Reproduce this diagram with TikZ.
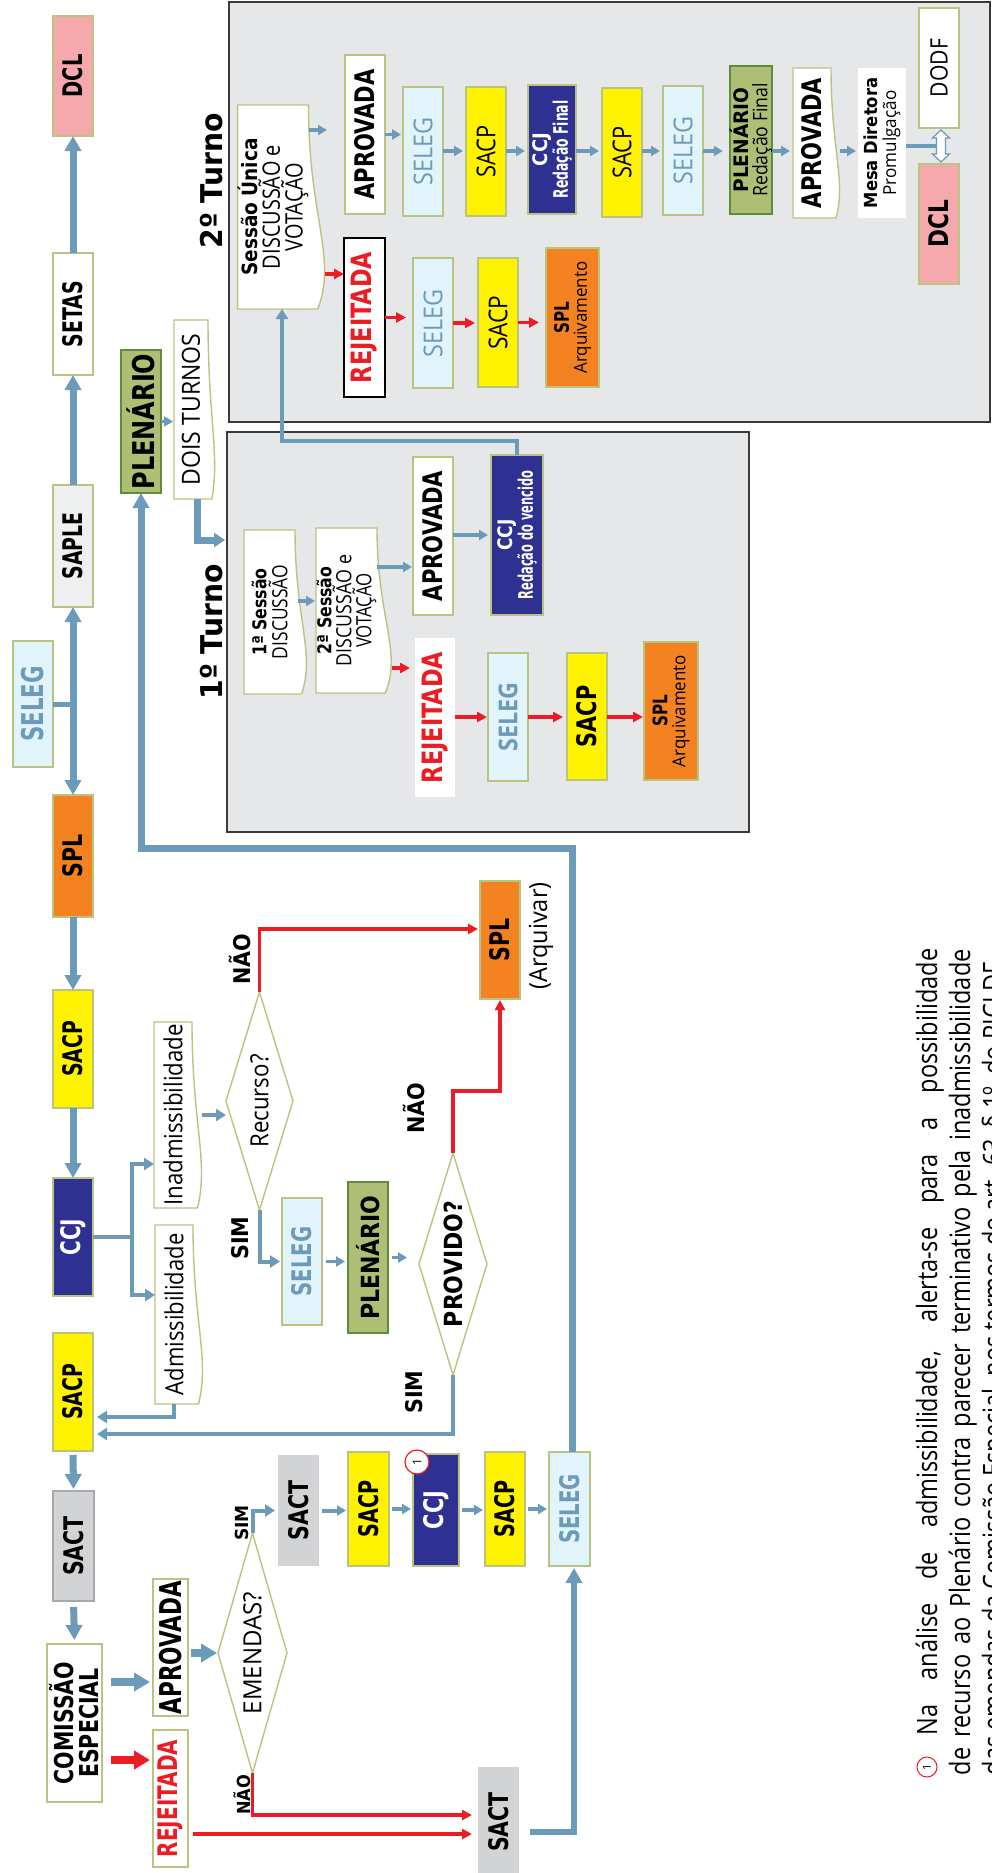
\documentclass[tikz,border=0pt]{standalone}
\usepackage{fontspec}
\usepackage{graphicx}
\setmainfont{DejaVu Sans}
\newfontfamily\os{Open Sans}
\usetikzlibrary{arrows.meta,shapes.geometric,calc}

\definecolor{flow}{RGB}{107,155,185}
\definecolor{nored}{RGB}{237,28,36}
\definecolor{olive}{RGB}{184,196,128}
\definecolor{dclpink}{RGB}{245,169,172}
\definecolor{yel}{RGB}{255,242,0}
\definecolor{navy}{RGB}{46,49,146}
\definecolor{orng}{RGB}{245,130,32}
\definecolor{skyb}{RGB}{225,243,251}
\definecolor{plen}{RGB}{174,190,117}
\definecolor{plenb}{RGB}{94,140,59}
\definecolor{sactg}{RGB}{209,211,212}
\definecolor{sactb}{RGB}{167,169,172}
\definecolor{sapleg}{RGB}{238,239,239}
\definecolor{panel}{RGB}{230,231,232}
\definecolor{panelb}{RGB}{58,58,58}

% size, horizontal squeeze, text
\newcommand\bx[3]{{\fontsize{#1pt}{#1pt}\selectfont\bfseries\scalebox{#2}[1]{#3}}}
\newcommand\rx[3]{{\fontsize{#1pt}{#1pt}\os\scalebox{#2}[1]{#3}}}
\newcommand\ob[3]{{\fontsize{#1pt}{#1pt}\os\bfseries\scalebox{#2}[1]{#3}}}

\pgfdeclarelayer{background}
\pgfdeclarelayer{shapes}
\pgfsetlayers{background,shapes,main}

% document-style outline (wavy side) behind a named node
\newcommand\wavebox[2]{%
  \begin{pgfonlayer}{shapes}
  \draw[fill=white, draw=olive, line width=1.4pt]
    (#1.north east) -- (#1.south east)
    .. controls ($(#1.south east)!0.55!(#1.south west)$)
            and ($(#1.south east)!0.75!(#1.south west)+(1.7*#2,0)$)
    .. ($(#1.south west)+(0.55*#2,0)$) -- (#1.north west) -- cycle;
  \end{pgfonlayer}}

\tikzset{
  every node/.style={inner sep=0pt, outer sep=0pt},
  card/.style={rotate=90, align=center, line width=1.4pt},
  dims/.style 2 args={minimum width=#1pt, minimum height=#2pt},
  plainbox/.style={card, draw=olive, fill=white},
  yellowbox/.style={card, draw=olive, fill=yel},
  navybox/.style={card, draw=olive, fill=navy, text=white},
  orangebox/.style={card, draw=olive, fill=orng},
  skybox/.style={card, draw=olive, fill=skyb, text=flow},
  pinkbox/.style={card, draw=olive, fill=dclpink},
  plenbox/.style={card, draw=plenb, fill=plen},
  sactbox/.style={card, fill=sactg},
  docbox/.style={card},
  decision/.style={card, diamond, aspect=3.3, draw=olive, fill=white},
  lbl/.style={rotate=90},
  panelbox/.style={draw=panelb, fill=panel, line width=1.2pt},
  arrThick/.style={draw=flow, line width=7pt, -{Triangle[width=16pt,length=15pt]}},
  arrMed/.style={draw=flow, line width=4.5pt, -{Triangle[width=12pt,length=10pt]}},
  arrSmall/.style={draw=flow, line width=3.5pt, -{Triangle[width=10pt,length=9pt]}},
  arrRed/.style={draw=nored, line width=3.5pt, -{Triangle[width=10pt,length=10pt]}},
  arrBlock/.style={line width=8pt, -{Triangle[width=18pt,length=16pt]}},
}

\begin{document}
\begin{tikzpicture}[x=1pt,y=-1pt]
\useasboundingbox (0,0) rectangle (991,1873);

\begin{pgfonlayer}{background}
  \fill[white] (0,0) rectangle (991,1873);
  \node[panelbox, minimum width=761pt, minimum height=420pt] (t2) at (609.5,212) {};
  \node[panelbox, minimum width=522pt, minimum height=400pt] (t1) at (488,632) {};
\end{pgfonlayer}

% ---------------- main column ----------------
\node[pinkbox, dims={120}{40}] (dcl) at (73,76) {\bx{27}{0.72}{DCL}};
\node[plainbox, dims={122}{40}] (setas) at (73,314) {\bx{27}{0.7}{SETAS}};
\node[card, draw=olive, fill=sapleg, dims={122}{40}] (saple) at (73,546) {\bx{27}{0.7}{SAPLE}};
\node[skybox, dims={126}{40}] (selegA) at (33,704) {\bx{30}{0.71}{SELEG}};
\node[orangebox, dims={122}{40}] (splA) at (73,856) {\bx{27}{0.76}{SPL}};
\node[yellowbox, dims={118}{40}] (sacpA) at (73,1049) {\bx{27}{0.7}{SACP}};
\node[navybox, dims={118}{40}] (ccjA) at (73,1237) {\bx{27}{0.74}{CCJ}};
\node[yellowbox, dims={118}{40}] (sacpB) at (73,1392) {\bx{27}{0.7}{SACP}};
\node[sactbox, draw=sactb, line width=2pt, dims={110}{41}] (sactA) at (73.5,1546) {\bx{27}{0.76}{SACT}};
\node[plainbox, dims={158}{55}, font=\fontsize{26pt}{25pt}\selectfont] (comissao) at (74.5,1723)
  {\bx{26}{0.79}{COMISSÃO}\\\bx{26}{0.79}{ESPECIAL}};

\draw[arrThick] (setas.east) -- (dcl.west);
\draw[arrThick] (saple.east) -- (setas.west);
\coordinate (junc) at (saple.west |- selegA.south);
\draw[draw=flow, line width=5pt] (selegA.south) -- (junc);
\draw[arrThick] (junc) -- (saple.west);
\draw[arrThick] (junc) -- (splA.east);
\draw[arrThick] (splA.west) -- (sacpA.east);
\draw[arrThick] (sacpA.west) -- (ccjA.east);
\draw[arrThick, shorten <=4pt, shorten >=2pt] (sacpB.west) -- (sactA.east);
\draw[arrThick, shorten <=6pt, shorten >=4pt] (sactA.west) -- (comissao.east);

% ---------------- plenary, two rounds ----------------
\node[plenbox, dims={143}{40}] (plenA) at (141,421.5) {\bx{30}{0.8}{PLENÁRIO}};
\node[docbox, dims={179}{34}] (dois) at (191,409.5) {\rx{25}{0.92}{DOIS TURNOS}};
\wavebox{dois}{7}
\draw[arrSmall, shorten >=1pt] (plenA.south) -- (plenA.south -| dois.north);
\draw[draw=flow, line width=7pt, -{Triangle[width=14pt,length=11pt]}, shorten >=2pt]
  ([xshift=6pt]dois.west) |- (t1.west |- 0,540);

\node[lbl] (tit2) at (211.5,181) {\bx{30}{0.94}{2º Turno}};
\node[lbl] (tit1) at (211.5,632) {\bx{30}{0.94}{1º Turno}};

% ---------------- Comissao Especial outcome ----------------
\node[plainbox, dims={137}{35}] (aprov0) at (170.5,1647.5) {\bx{30}{0.72}{APROVADA}};
\node[plainbox, dims={137}{35}, text=nored] (rej0) at (170.5,1798.5) {\bx{27}{0.74}{REJEITADA}};
\draw[arrBlock, draw=flow, shorten <=9pt, shorten >=3pt] (comissao.south |- 0,1682) -- (aprov0.north |- 0,1682);
\draw[arrBlock, draw=nored, shorten <=9pt, shorten >=3pt] (comissao.south |- 0,1760) -- (rej0.north |- 0,1760);

\node[decision, dims={240}{69}] (emendas) at (252.5,1653) {\rx{25}{0.96}{EMENDAS?}};
\draw[arrBlock, draw=flow, shorten <=3pt, shorten >=1pt] (aprov0.south |- emendas.north) -- (emendas.north);
\node[lbl] (simA) at (242,1523) {\bx{18}{0.95}{SIM}};
\node[lbl] (naoA) at (242,1795) {\bx{18}{0.9}{NÃO}};

\node[sactbox, dims={111}{41}] (sactB) at (298.5,1510.5) {\bx{27}{0.76}{SACT}};
\node[yellowbox, dims={114}{41}] (sacpC) at (368.5,1509) {\bx{27}{0.71}{SACP}};
\node[navybox, dims={112}{46}] (ccjB) at (436,1510) {\bx{27}{0.77}{CCJ}};
\node[yellowbox, dims={114}{40}] (sacpD) at (505,1509) {\bx{27}{0.71}{SACP}};
\node[skybox, dims={114}{41}] (selegB) at (569.5,1509) {\bx{27}{0.73}{SELEG}};
\node[sactbox, dims={110}{41}] (sactC) at (498.5,1822) {\bx{27}{0.76}{SACT}};
\node[circle, draw=nored, fill=white, line width=1.2pt, minimum size=24pt, rotate=90] (badge) at (417,1462) {\rx{12}{1}{1}};

\draw[arrMed, line width=4pt, shorten >=3pt] (emendas.east) |- (sactB.north);
\coordinate (redA) at ($(sactC.north)+(0,-7)$);
\coordinate (redB) at ($(sactC.north)+(0,12)$);
\draw[arrRed, shorten >=6pt] (emendas.west) |- (redA);
\draw[arrRed, shorten <=5pt, shorten >=6pt] (rej0.south |- redB) -- (redB);
\draw[arrSmall, line width=4pt, shorten <=3pt, shorten >=2pt] (sactB.south) -- (sactB.south -| sacpC.north);
\draw[arrSmall, line width=4pt, shorten <=3pt, shorten >=2pt] (sacpC.south) -- (sacpC.south -| ccjB.north);
\draw[arrSmall, line width=4pt, shorten <=3pt, shorten >=2pt] (ccjB.south) -- (ccjB.south -| sacpD.north);
\draw[arrSmall, line width=4pt, shorten <=3pt, shorten >=2pt] (sacpD.south) -- (sacpD.south -| selegB.north);
\draw[arrThick, line width=6pt, shorten <=11pt, shorten >=2pt] (sactC.south |- 0,1832) -| ([xshift=4.5pt]selegB.west);

% loop back to the plenary
\coordinate (loop) at (572,848);
\draw[arrThick] ([xshift=2.5pt]selegB.east) -- (loop) -| (plenA.west);

% ---------------- admissibility branch ----------------
\node[docbox, dims={186}{38}] (inadm) at (173,1115) {\rx{25}{0.89}{Inadmissibilidade}};
\wavebox{inadm}{10}
\node[docbox, dims={179}{38}] (adm) at (174,1314.5) {\rx{25}{0.88}{Admissibilidade}};
\wavebox{adm}{10}
\coordinate (br) at ($(ccjA.south)+(39,0)$);
\draw[draw=flow, line width=4.5pt] (ccjA.south) -- (br);
\draw[arrMed] (br) |- (inadm.north |- 0,1164);
\draw[arrMed] (br) |- (adm.north |- 0,1295);

\node[decision, dims={218}{67}] (recurso) at (259.5,1101) {\rx{25}{0.89}{Recurso?}};
\draw[arrMed, line width=4pt] ([xshift=10pt]inadm.south) -- (recurso.north |- inadm.south);
\node[skybox, dims={127}{40}] (selegC) at (302,1261.5) {\bx{27}{0.73}{SELEG}};
\node[plenbox, dims={151}{40}] (plenB) at (368,1257.5) {\bx{25}{0.88}{PLENÁRIO}};
\node[decision, dims={222}{68}] (provido) at (453,1264) {\bx{25}{0.88}{PROVIDO?}};
\node[orangebox, dims={118}{40}] (splB) at (500,940) {\bx{27}{0.76}{SPL}};
\node[lbl] (arq) at (541,936) {\rx{25}{0.94}{(Arquivar)}};

\node[lbl] (naoB) at (240,959) {\bx{23}{0.9}{NÃO}};
\node[lbl] (simB) at (240,1238) {\bx{23}{0.9}{SIM}};
\node[lbl] (naoC) at (414,1108) {\bx{23}{0.9}{NÃO}};
\node[lbl] (simC) at (414,1392) {\bx{23}{0.9}{SIM}};

\draw[arrRed, shorten >=2pt] (recurso.east) |- ([yshift=11pt]splB.north);
\draw[arrMed, line width=4pt, shorten >=2pt] (recurso.west) |- (selegC.north);
\draw[arrSmall, shorten <=4pt, shorten >=3pt] (selegC.south) -- (selegC.south -| plenB.north);
\draw[arrSmall, shorten <=4pt, shorten >=12pt] (plenB.south) -- (plenB.south -| provido.north);
\draw[arrRed, shorten >=1pt] (provido.east) -- (provido.east |- 0,1091) -| (splB.west);
\draw[arrMed, line width=4pt, shorten >=4pt] (provido.west) |- (sacpB.south |- 0,1434);
\draw[arrMed, line width=4pt, shorten >=4pt] (adm.west) |- (sacpB.south |- 0,1417);

% second round
\node[docbox, dims={204}{68}, font=\fontsize{21pt}{21pt}\selectfont] (sess) at (273,207)
  {\bx{21}{0.88}{Sessão Única}\\\rx{24}{0.83}{DISCUSSÃO e}\\\rx{24}{0.83}{VOTAÇÃO}};
\wavebox{sess}{17}
\node[plainbox, dims={159}{40}] (aprB) at (365,134.5) {\bx{27}{0.78}{APROVADA}};
\node[card, draw=black, fill=white, dims={159}{41}, text=nored] (rejB) at (364.5,317.5) {\bx{28}{0.8}{REJEITADA}};
\node[skybox, dims={129}{40}] (selegD) at (423,151.5) {\rx{26}{0.9}{SELEG}};
\node[yellowbox, dims={129}{40}] (sacpE) at (486,151.5) {\rx{26}{0.84}{SACP}};
\node[navybox, dims={129}{48}, font=\fontsize{20pt}{19pt}\selectfont] (ccjC) at (552,149.5)
  {\bx{20}{0.9}{CCJ}\\\bx{20}{0.62}{Redação Final}};
\node[yellowbox, dims={129}{40}] (sacpF) at (622,152.5) {\rx{26}{0.84}{SACP}};
\node[skybox, dims={129}{40}] (selegE) at (683,150.5) {\rx{26}{0.9}{SELEG}};
\node[plenbox, dims={148}{40}, font=\fontsize{20pt}{19pt}\selectfont] (plenC) at (751,140)
  {\bx{20}{0.93}{PLENÁRIO}\\\rx{20}{0.88}{Redação Final}};
\node[docbox, dims={150}{38}] (aprC) at (812,143) {\bx{27}{0.78}{APROVADA}};
\wavebox{aprC}{9}
\node[card, fill=white, dims={150}{48}, font=\fontsize{18pt}{19pt}\selectfont] (mesa) at (882,143)
  {\bx{18}{0.91}{Mesa Diretora}\\\rx{18}{0.95}{Promulgação}};
\node[plainbox, dims={120}{40}] (dodf) at (939,68) {\rx{24}{0.88}{DODF}};
\node[pinkbox, dims={120}{40}] (dclB) at (939,224) {\bx{27}{0.8}{DCL}};

\node[skybox, dims={130}{40}] (selegF) at (433,323) {\rx{26}{0.9}{SELEG}};
\node[yellowbox, dims={129}{40}] (sacpG) at (498,322.5) {\rx{26}{0.87}{SACP}};
\node[orangebox, dims={139}{53}, font=\fontsize{20pt}{18pt}\selectfont] (arqA) at (572.5,317.5)
  {\bx{20}{0.76}{SPL}\\\rx{18}{0.94}{Arquivamento}};

\draw[arrSmall, shorten <=1pt] (sess.south |- 0,130) -- ([xshift=-18pt]aprB.north |- 0,130);
\draw[arrRed, shorten <=17pt] (sess.south |- 0,274) -- (rejB.north |- 0,274);
\draw[arrSmall, shorten >=2pt] (aprB.south) -- (aprB.south -| selegD.north);
\draw[arrSmall, shorten >=3pt] (selegD.south |- 0,151) -- (sacpE.north |- 0,151);
\draw[arrSmall, shorten >=3pt] (sacpE.south |- 0,151) -- (ccjC.north |- 0,151);
\draw[arrSmall, shorten >=3pt] (ccjC.south |- 0,151) -- (sacpF.north |- 0,151);
\draw[arrSmall, shorten >=3pt] (sacpF.south |- 0,151) -- (selegE.north |- 0,151);
\draw[arrSmall, shorten >=7pt] (selegE.south |- 0,151) -- (plenC.north |- 0,151);
\draw[arrSmall, shorten >=3pt] (plenC.south |- 0,151) -- (aprC.north |- 0,151);
\draw[arrSmall, shorten <=9pt, shorten >=2pt] (aprC.south |- 0,151) -- (mesa.north |- 0,151);

\coordinate (dbl) at ($(dodf.west)!0.5!(dclB.east)$);
\draw[draw=flow, line width=4pt] (mesa.south |- dbl) -- ([xshift=-2pt]dbl);
\draw[draw=flow, line width=1.2pt, fill=white, shift={(dbl)}]
  (2,-16) -- (-6.5,-8) -- (-2.5,-8) -- (-2.5,8) -- (-6.5,8) -- (2,16)
  -- (10.5,8) -- (6.5,8) -- (6.5,-8) -- (10.5,-8) -- cycle;

\draw[arrRed, shorten >=7pt] (rejB.south) -- (rejB.south -| selegF.north);
\draw[arrRed, shorten >=3pt] (selegF.south) -- (selegF.south -| sacpG.north);
\draw[arrRed, shorten >=7pt] (sacpG.south) -- (sacpG.south -| arqA.north);

% first round
\node[docbox, dims={164}{51}, font=\fontsize{20pt}{21pt}\selectfont] (s1) at (269.5,612)
  {\bx{19}{0.83}{1ª Sessão}\\\rx{21}{0.83}{DISCUSSÃO}};
\wavebox{s1}{12}
\node[docbox, dims={165}{61}, font=\fontsize{20pt}{19pt}\selectfont] (s2) at (346.5,610.5)
  {\bx{19}{0.83}{2ª Sessão}\\\rx{21}{0.85}{DISCUSSÃO e}\\\rx{21}{0.8}{VOTAÇÃO}};
\wavebox{s2}{15}
\node[plainbox, dims={158}{40}] (aprA) at (433,536) {\bx{27}{0.78}{APROVADA}};
\node[navybox, dims={160}{52}, font=\fontsize{20pt}{19pt}\selectfont] (ccjD) at (517,535)
  {\bx{20}{0.85}{CCJ}\\\bx{20}{0.57}{Redação do vencido}};
\node[card, fill=white, dims={159}{40}, text=nored] (rejA) at (435,717.5) {\bx{28}{0.8}{REJEITADA}};
\node[skybox, dims={128}{40}] (selegG) at (508,717) {\ob{26}{0.9}{SELEG}};
\node[yellowbox, dims={127}{40}] (sacpH) at (587,716.5) {\bx{27}{0.77}{SACP}};
\node[orangebox, dims={138}{54}, font=\fontsize{20pt}{18pt}\selectfont] (arqB) at (671,711)
  {\bx{20}{0.76}{SPL}\\\rx{18}{0.94}{Arquivamento}};

\draw[arrSmall, shorten >=1pt] ([xshift=3pt]s1.south |- 0,601) -- (s2.north |- 0,601);
\draw[arrSmall, shorten >=1pt] (s2.south |- 0,567) -- (aprA.north |- 0,567);
\draw[arrSmall, shorten >=3pt] (aprA.south |- 0,535) -- (ccjD.north |- 0,535);
\draw[arrRed, shorten >=5pt] ([xshift=15pt]s2.south |- 0,668) -- (rejA.north |- 0,668);
\draw[arrRed, shorten >=1pt] (rejA.south |- 0,717) -- (selegG.north |- 0,717);
\draw[arrRed, shorten >=4pt] (selegG.south |- 0,717) -- (sacpH.north |- 0,717);
\draw[arrRed, shorten >=1pt] (sacpH.south |- 0,717) -- (arqB.north |- 0,717);
\draw[arrMed] (ccjD.east) -- (ccjD.east |- 0,441) -| ([xshift=9pt]sess.west);

% ---------------- footnote ----------------
\node[circle, draw=nored, line width=1pt, minimum size=20pt, rotate=90] (fn) at (927,1767) {\rx{11}{1}{1}};
\node[lbl, anchor=base west] (note1) at (937,1735)
  {\rx{28}{0.84}{\makebox[936pt][s]{Na análise de admissibilidade, alerta-se para a possibilidade}}};
\node[lbl, anchor=base west] (note2) at (970,1775)
  {\rx{28}{0.84}{\makebox[983pt][s]{de recurso ao Plenário contra parecer terminativo pela inadmissibilidade}}};
\node[lbl, anchor=base west] (note3) at (1003,1775)
  {\rx{28}{0.84}{das emendas da Comissão Especial, nos termos do art. 63, § 1º, do RICLDF.}};
\end{tikzpicture}
\end{document}
